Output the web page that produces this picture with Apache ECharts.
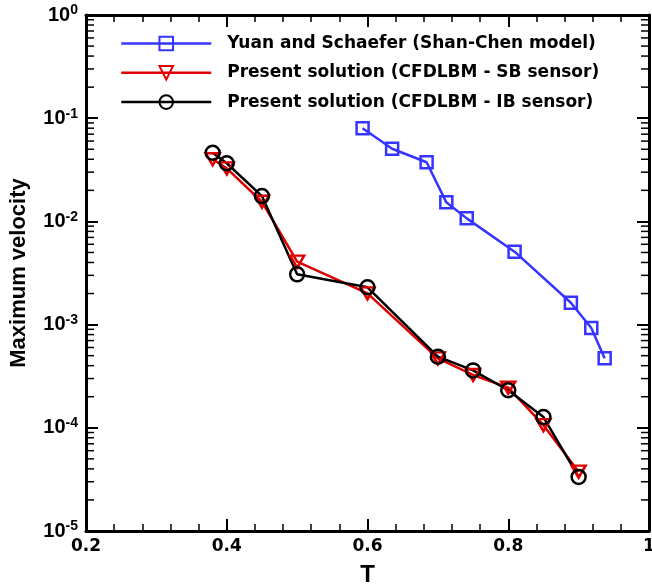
<!DOCTYPE html>
<html>
<head>
<meta charset="utf-8">
<script src="https://cdn.jsdelivr.net/npm/echarts@6/dist/echarts.min.js"></script>
<style>
html,body{margin:0;padding:0;background:#fff;}
#chart{width:652px;height:586px;}
</style>
</head>
<body>
<div id="chart"></div>
<script>
// ---- data ----
var yuanT = [0.593, 0.635, 0.684, 0.712, 0.741, 0.809, 0.889, 0.918, 0.937];
var yuanV = [0.0798, 0.0506, 0.0374, 0.0153, 0.0107, 0.00509, 0.00163, 0.000927, 0.000471];

var sbT = [0.38, 0.40, 0.45, 0.50, 0.60, 0.70, 0.75, 0.80, 0.85, 0.90];
var sbV = [0.040, 0.0327, 0.0155, 0.00407, 0.00201, 0.000471, 0.000325, 0.000245, 0.000106, 0.0000376];

var ibT = [0.38, 0.40, 0.45, 0.50, 0.60, 0.70, 0.75, 0.80, 0.85, 0.90];
var ibV = [0.0463, 0.0366, 0.0176, 0.00307, 0.0023, 0.000489, 0.00036, 0.000231, 0.000127, 0.0000334];

var seriesNames = [
  'Yuan and Schaefer (Shan-Chen model)',
  'Present solution (CFDLBM - SB sensor)',
  'Present solution (CFDLBM - IB sensor)'
];
var seriesColors = ['#3535ff', '#e00000', '#000000'];
var xTicks = [0.2, 0.4, 0.6, 0.8, 1.0];
var yMin = 1e-5, yMax = 1;
var minorMantissas = [2, 3, 4, 5, 6, 7, 8, 9];
var minorDecades = [1e-5, 1e-4, 1e-3, 1e-2, 1e-1];

function pairs(xs, ys) { return xs.map(function (x, i) { return [x, ys[i]]; }); }
var minorTickData = [];
minorDecades.forEach(function (d) {
  minorMantissas.forEach(function (m) { minorTickData.push([xTicks[0], m * d]); });
});

var FONT = 'DejaVu Sans';
var chart = echarts.init(document.getElementById('chart'), null, {renderer: 'canvas'});

var xCommon = {
  type: 'value', min: xTicks[0], max: xTicks[xTicks.length - 1], interval: 0.2,
  axisLine: {show: true, onZero: false, lineStyle: {color: '#000', width: 3}},
  axisTick: {show: true, inside: true, length: 12, lineStyle: {color: '#000', width: 2}},
  minorTick: {show: true, splitNumber: 5, length: 7, lineStyle: {color: '#000', width: 1.5}},
  splitLine: {show: false}
};
var yCommon = {
  type: 'log', logBase: 10, min: yMin, max: yMax,
  axisLine: {show: true, onZero: false, lineStyle: {color: '#000', width: 3}},
  axisTick: {show: true, inside: true, length: 12, lineStyle: {color: '#000', width: 2}},
  splitLine: {show: false}
};

var option = {
  backgroundColor: '#fff',
  animation: false,
  grid: {left: 86, right: 3, top: 15, bottom: 55, containLabel: false, outerBoundsMode: 'none'},
  legend: {
    data: seriesNames.map(function (n, i) {
      return {name: n, lineStyle: {width: 2.5, color: seriesColors[i]}};
    }),
    orient: 'vertical',
    left: 115, top: 30,
    itemWidth: 90, itemHeight: 17, itemGap: 12.3,
    textStyle: {fontFamily: FONT, fontWeight: 'bold', fontSize: 17, lineHeight: 17, color: '#000', padding: [0, 0, 0, 11]}
  },
  xAxis: [
    Object.assign({}, xCommon, {
      position: 'bottom',
      name: 'T', nameLocation: 'middle', nameGap: 32,
      nameTextStyle: {fontFamily: 'Liberation Sans', fontWeight: 'bold', fontSize: 24, color: '#000'},
      axisLabel: {show: true, margin: 7, color: '#000', fontFamily: FONT, fontWeight: 'bold', fontSize: 17,
        formatter: function (v) { return Math.abs(v - 1) < 1e-9 ? '1' : v.toFixed(1); }}
    }),
    Object.assign({}, xCommon, {position: 'top', axisLabel: {show: false}})
  ],
  yAxis: [
    Object.assign({}, yCommon, {
      position: 'left',
      name: 'Maximum velocity', nameLocation: 'middle', nameGap: 56, nameRotate: 90,
      nameTextStyle: {fontFamily: 'Liberation Sans', fontWeight: 'bold', fontSize: 22, color: '#000'},
      axisLabel: {show: true, margin: 8, color: '#000',
        formatter: function (v) {
          var e = Math.round(Math.log10(v));
          return '{b|10}{s|' + e + '}';
        },
        rich: {
          b: {fontFamily: 'Liberation Sans', fontWeight: 'bold', fontSize: 20, color: '#000'},
          s: {fontFamily: 'Liberation Sans', fontWeight: 'bold', fontSize: 14, color: '#000',
              verticalAlign: 'bottom', padding: [0, 0, 9, 0]}
        }
      }
    }),
    Object.assign({}, yCommon, {position: 'right', axisLabel: {show: false}})
  ],
  series: [
    {
      type: 'custom', name: 'minorLogTicks', silent: true, clip: false,
      xAxisIndex: 0, yAxisIndex: 0, z: 10,
      data: minorTickData,
      renderItem: function (params, api) {
        var v = api.value(1);
        var pl = api.coord([xTicks[0], v]);
        var pr = api.coord([xTicks[xTicks.length - 1], v]);
        var st = {stroke: '#000', lineWidth: 1.5};
        return {type: 'group', children: [
          {type: 'line', shape: {x1: pl[0], y1: pl[1], x2: pl[0] + 8, y2: pl[1]}, style: st},
          {type: 'line', shape: {x1: pr[0] - 8, y1: pr[1], x2: pr[0], y2: pr[1]}, style: st}
        ]};
      }
    },
    {
      name: seriesNames[0], type: 'line', data: pairs(yuanT, yuanV),
      symbol: 'rect', symbolSize: 12,
      lineStyle: {color: seriesColors[0], width: 2.5},
      itemStyle: {color: 'rgba(255,255,255,0)', borderColor: seriesColors[0], borderWidth: 2.5}
    },
    {
      name: seriesNames[1], type: 'line', data: pairs(sbT, sbV),
      symbol: 'path://M0,0L20,0L10,17Z', symbolSize: [14, 12],
      lineStyle: {color: seriesColors[1], width: 2.5},
      itemStyle: {color: 'rgba(255,255,255,0)', borderColor: seriesColors[1], borderWidth: 2.5}
    },
    {
      name: seriesNames[2], type: 'line', data: pairs(ibT, ibV),
      symbol: 'circle', symbolSize: 14,
      lineStyle: {color: seriesColors[2], width: 2.5},
      itemStyle: {color: 'rgba(255,255,255,0)', borderColor: seriesColors[2], borderWidth: 2.5}
    }
  ]
};
chart.setOption(option);
</script>
</body>
</html>
